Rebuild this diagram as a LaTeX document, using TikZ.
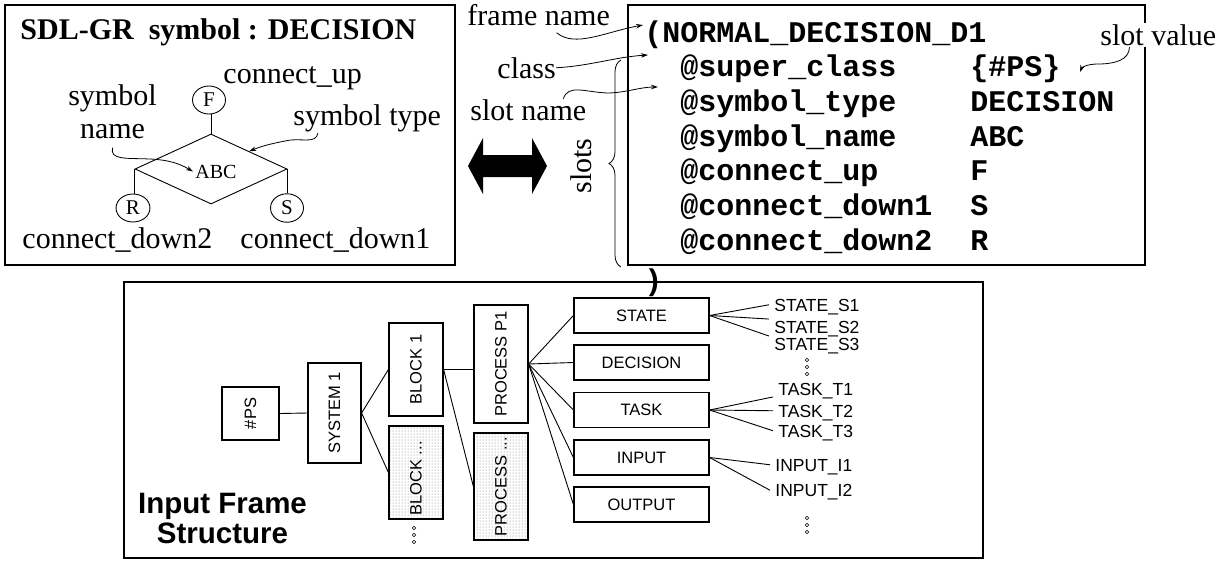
\documentclass[tikz,border=0pt]{standalone}
\usepackage{fontspec}
\setmainfont{Liberation Serif}
\setsansfont{Liberation Sans}
\setmonofont{Liberation Mono}
\usetikzlibrary{shapes.geometric,arrows.meta,decorations.pathreplacing,patterns}

\begin{document}
\begin{tikzpicture}[
        x=1pt, y=-1pt,
        line width=0.9pt,
        ann/.style={font=\fontsize{30}{33}\selectfont, inner sep=0pt},
        code/.style={font=\ttfamily\bfseries\fontsize{30}{34}\selectfont, inner sep=0pt, anchor=base west},
        port/.style={ellipse, draw, minimum width=33pt, minimum height=28pt, inner xsep=5pt, inner ysep=3pt, font=\fontsize{21}{21}\selectfont},
        frame/.style={draw, line width=1.6pt, inner sep=0pt},
        vbox/.style={draw, line width=1.2pt, inner sep=0pt, font=\sffamily\fontsize{16.5}{16.5}\selectfont},
        hbox/.style={draw, line width=1.2pt, minimum width=135pt, minimum height=35pt, inner sep=0pt, font=\sffamily\fontsize{16.5}{16.5}\selectfont},
        shaded/.style={preaction={fill=white}, pattern=dots, pattern color=black!55},
        leaf/.style={font=\sffamily\fontsize{17.5}{18}\selectfont, anchor=base west, inner xsep=5pt, inner ysep=1pt, text height=12.5pt, text depth=0pt},
        wavy/.style={-{Stealth[length=7pt,width=4.5pt]}, line width=0.8pt}]
        \useasboundingbox (0,0) rectangle (1226,560);

        % LEFT BOX: SDL-GR symbol
        \node[frame, minimum width=450pt, minimum height=260pt] (sdl) at (230,135) {};
        \node[ann, font=\bfseries\fontsize{30}{33}\selectfont, anchor=base west] (title) at (20,39) {SDL-GR\ \ symbol : DECISION};
        % decision symbol
        \node[diamond, draw, minimum width=152pt, minimum height=70pt, inner sep=0pt] (dec) at (211,169) {};
        \node[font=\fontsize{20}{20}\selectfont, inner sep=2pt, anchor=base] (abc) at (216,178) {ABC};
        % ports
        \node[port] (F) at (209,100) {F};
        \node[port] (R) at (133,208) {R};
        \node[port] (S) at (287,208) {S};
        % labels
        \node[ann, anchor=base west] (cup) at (223,83) {connect\_up};
        \node[ann, anchor=base, align=center] (symname) at (112.5,138) {symbol\\name};
        \node[ann, anchor=base west] (symtype) at (293,125) {symbol type};
        \node[ann, anchor=base west] (cdown2) at (22,248) {connect\_down2};
        \node[ann, anchor=base west] (cdown1) at (240,248) {connect\_down1};

        % LINES
        \draw (dec.north) -- (dec.north |- F.south);
        \draw (dec.west) -- (dec.west |- R.north);
        \draw (dec.east) -- (dec.east |- S.north);
        \draw[wavy] ([yshift=-9pt]symname.south) .. controls (110,160) and (125,158) .. (150,159) .. controls (170,160) and (180,164) .. (abc.west);
        \draw[wavy] ([shift={(25pt,-1pt)}]symtype.south west) .. controls (316,145) and (300,137) .. (285,141) .. controls (270,144) and (262,146) .. (dec.north east);

        % DOUBLE ARROW
        \fill (468,166) -- (483,138) -- (483,155) -- (532,155) -- (532,138) -- (547,166)
              -- (532,194) -- (532,177) -- (483,177) -- (483,194) -- cycle;

        % RIGHT BOX: frame
        \node[frame, minimum width=517pt, minimum height=260pt] (frm) at (886.5,135) {};
        \node[code] (row0) at (644,42) {(NORMAL\_DECISION\_D1};
        \node[code] (n1) at (680,76.7) {@super\_class};
        \node[code] (v1) at (970,76.7) {\{\#PS\}};
        \node[code] (n2) at (680,111.4) {@symbol\_type};
        \node[code] (v2) at (970,111.4) {DECISION};
        \node[code] (n3) at (680,146.1) {@symbol\_name};
        \node[code] (v3) at (970,146.1) {ABC};
        \node[code] (n4) at (680,180.8) {@connect\_up};
        \node[code] (v4) at (970,180.8) {F};
        \node[code] (n5) at (680,215.5) {@connect\_down1};
        \node[code] (v5) at (970,215.5) {S};
        \node[code] (n6) at (680,250.2) {@connect\_down2};
        \node[code] (v6) at (970,250.2) {R};
        % annotations
        \node[ann, anchor=base west] (fnm) at (467,25) {frame name};
        \node[ann, anchor=base west] (cls) at (497,78) {class};
        \node[ann, anchor=base west] (sname) at (470,120) {slot name};
        \node[ann, anchor=base west, fill=white, inner sep=1.5pt] (sval) at (1098.5,45) {slot value};
        \node[ann, rotate=90] (slots) at (581,166) {slots};
        \coordinate (fnametip) at (643,25);
        \coordinate (clstip) at (648,55);
        \coordinate (slottip) at (658,87);
        \coordinate (valtip) at (1080,72);

        % ARROWS
        \draw[wavy] ([shift={(18pt,-7pt)}]fnm.south) .. controls (575,48) and (605,32) .. (fnametip);
        \draw[wavy] (cls.east) .. controls (590,66) and (615,57) .. (clstip);
        \draw[wavy] ([xshift=35pt]sname.north) .. controls (568,84) and (585,92) .. (607,93) .. controls (625,93) and (640,87) .. (slottip);
        \draw[wavy] ([xshift=31pt]sval.south west) .. controls (1129,60) and (1115,64) .. (1098,64) .. controls (1088,64) and (1082,67) .. (valtip);
        \draw[decorate, decoration={brace, amplitude=12pt}, line width=0.8pt] (621,267) -- (621,60);

        % BOTTOM BOX: input frame structure
        \node[frame, minimum width=859pt, minimum height=276pt] (ifsbox) at (553.5,420) {};
        \node[code] (close) at (644,290) {)};
        \node[font=\sffamily\bfseries\fontsize{29.5}{30}\selectfont, align=center, anchor=base, inner sep=0pt] (ifs) at (222.5,543) {Input Frame\\Structure};
        % tree nodes
        \node[vbox, minimum width=57pt, minimum height=53pt] (ps) at (250.5,413.5) {\rotatebox{90}{\#PS}};
        \node[vbox, minimum width=53pt, minimum height=100pt] (sys) at (334.5,413) {\rotatebox{90}{SYSTEM 1}};
        \node[vbox, minimum width=54pt, minimum height=93pt] (blk) at (416,369.5) {\rotatebox{90}{BLOCK 1}};
        \node[vbox, shaded, minimum width=54pt, minimum height=93pt] (blkx) at (416,472.5) {\rotatebox{90}{BLOCK ...\hspace{12pt}}};
        \node[vbox, minimum width=54pt, minimum height=118pt] (proc) at (501,364) {\rotatebox{90}{PROCESS P1}};
        \node[vbox, shaded, minimum width=54pt, minimum height=107pt] (procx) at (501,486.5) {\rotatebox{90}{PROCESS ...}};
        \node[hbox] (st) at (641.5,315.5) {STATE};
        \node[hbox] (dc) at (641.5,362.5) {DECISION};
        \node[hbox] (tk) at (641.5,410) {TASK};
        \node[hbox] (inp) at (641.5,457.5) {INPUT};
        \node[hbox] (outp) at (641.5,504.5) {OUTPUT};
        % leaves
        \node[leaf] (s1) at (769,311) {STATE\_S1};
        \node[leaf] (s2) at (769,333) {STATE\_S2};
        \node[leaf] (s3) at (769,350) {STATE\_S3};
        \node[leaf] (t1) at (773,395.5) {TASK\_T1};
        \node[leaf] (t2) at (773,417) {TASK\_T2};
        \node[leaf] (t3) at (773,437) {TASK\_T3};
        \node[leaf] (i1) at (770,471) {INPUT\_I1};
        \node[leaf] (i2) at (770,496.5) {INPUT\_I2};
        % more dots
        \draw[line width=0.6pt] (807,360) circle (1.7) (807,367) circle (1.7) (807,374) circle (1.7);
        \draw[line width=0.6pt] (807,518) circle (1.7) (807,525) circle (1.7) (807,532) circle (1.7);
        \draw[line width=0.6pt] (414,528) circle (1.7) (414,535) circle (1.7) (414,542) circle (1.7);

        % TREE LINES
        \draw (ps.east) -- (sys.west);
        \draw (sys.east) -- (blk.west);
        \draw (sys.east) -- (blkx.west);
        \draw (blk.east) -- (blk.east -| proc.west);
        \draw (blk.east) -- (procx.west);
        \draw (proc.east) -- (st.west);
        \draw (proc.east) -- (dc.west);
        \draw (proc.east) -- (tk.west);
        \draw (proc.east) -- (inp.west);
        \draw (proc.east) -- (outp.west);
        \draw (st.east) -- (s1.west);
        \draw (st.east) -- (s2.north west);
        \draw (st.east) -- (s3.north west);
        \draw (tk.east) -- (t1.south west);
        \draw (tk.east) -- (t2.west);
        \draw (tk.east) -- (t3.west);
        \draw (inp.east) -- (i1.west);
        \draw (inp.east) -- (i2.west);
    \end{tikzpicture}
\end{document}
